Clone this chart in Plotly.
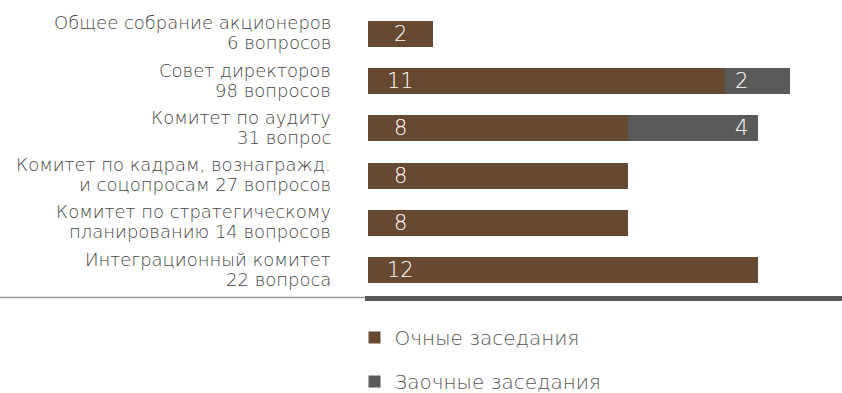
import plotly.graph_objects as go

# данные
label_top = [
    "Общее собрание акционеров",
    "Совет директоров",
    "Комитет по аудиту",
    "Комитет по кадрам, вознагражд.",
    "Комитет по стратегическому",
    "Интеграционный комитет",
]
label_bottom = [
    "6 вопросов",
    "98 вопросов",
    "31 вопрос",
    "и соцопросам 27 вопросов",
    "планированию 14 вопросов",
    "22 вопроса",
]
categories = [a + " " + b for a, b in zip(label_top, label_bottom)]
in_person = [2, 11, 8, 8, 8, 12]
in_absentia = [0, 2, 4, 0, 0, 0]

BROWN = '#674830'
GRAY = '#5a5a59'
FONT = 'DejaVu Sans'
LIGHT = 200

fig = go.Figure()
fig.add_trace(go.Bar(
    y=categories, x=in_person, orientation='h',
    name='Очные заседания', marker_color=BROWN, marker_line_width=0,
    legendgroup='a',
))
fig.add_trace(go.Bar(
    y=categories, x=[v if v else None for v in in_absentia], orientation='h',
    name='Заочные заседания', marker_color=GRAY, marker_line_width=0,
    legendgroup='b',
))

# подписи категорий (две строки, плотный интерлиньяж)
for cat, top, bottom in zip(categories, label_top, label_bottom):
    for txt, shift in ((top, 11), (bottom, -9)):
        fig.add_annotation(x=-0.067, xref='paper', y=cat, yshift=shift,
                           text=txt, showarrow=False, xanchor='right',
                           yanchor='middle',
                           font=dict(size=18, color='#464646', family=FONT,
                                     weight=LIGHT))

# подписи значений
for cat, v in zip(categories, in_person):
    fig.add_annotation(x=1, y=cat, text=str(v), showarrow=False,
                       font=dict(color='white', size=21, family=FONT, weight=LIGHT),
                       xanchor='center', yanchor='middle')
for cat, v in zip(categories, in_absentia):
    if v:
        fig.add_annotation(x=11.5, y=cat, text=str(v), showarrow=False,
                           font=dict(color='white', size=21, family=FONT, weight=LIGHT),
                           xanchor='center', yanchor='middle')

# тонкая линия слева от оси
fig.add_shape(type='line', xref='paper', yref='paper',
              x0=-0.77, x1=0, y0=-0.005, y1=-0.005,
              line=dict(color='#9a9a9a', width=1.5))

fig.update_layout(
    barmode='stack',
    bargap=0.45,
    width=842, height=393,
    margin=dict(l=365, r=0, t=0, b=97, autoexpand=False),
    plot_bgcolor='white',
    paper_bgcolor='white',
    font=dict(family=FONT, size=16, color='#3d3d3d'),
    xaxis=dict(range=[-0.1, 14.6], showgrid=False, zeroline=False,
               showticklabels=False, showline=True, linewidth=5,
               linecolor='#595959'),
    yaxis=dict(range=[5.55, -0.72], showgrid=False, zeroline=False,
               ticks='', showticklabels=False, showline=False),
    legend=dict(orientation='v', x=-0.022, xanchor='left', y=-0.074,
                yanchor='top', tracegroupgap=15, traceorder='grouped',
                font=dict(size=20, color='#555555', family=FONT, weight=LIGHT)),
    showlegend=True,
)

fig.write_html("out.html", config={'displayModeBar': False},
               post_script="document.body.style.margin='0';")
